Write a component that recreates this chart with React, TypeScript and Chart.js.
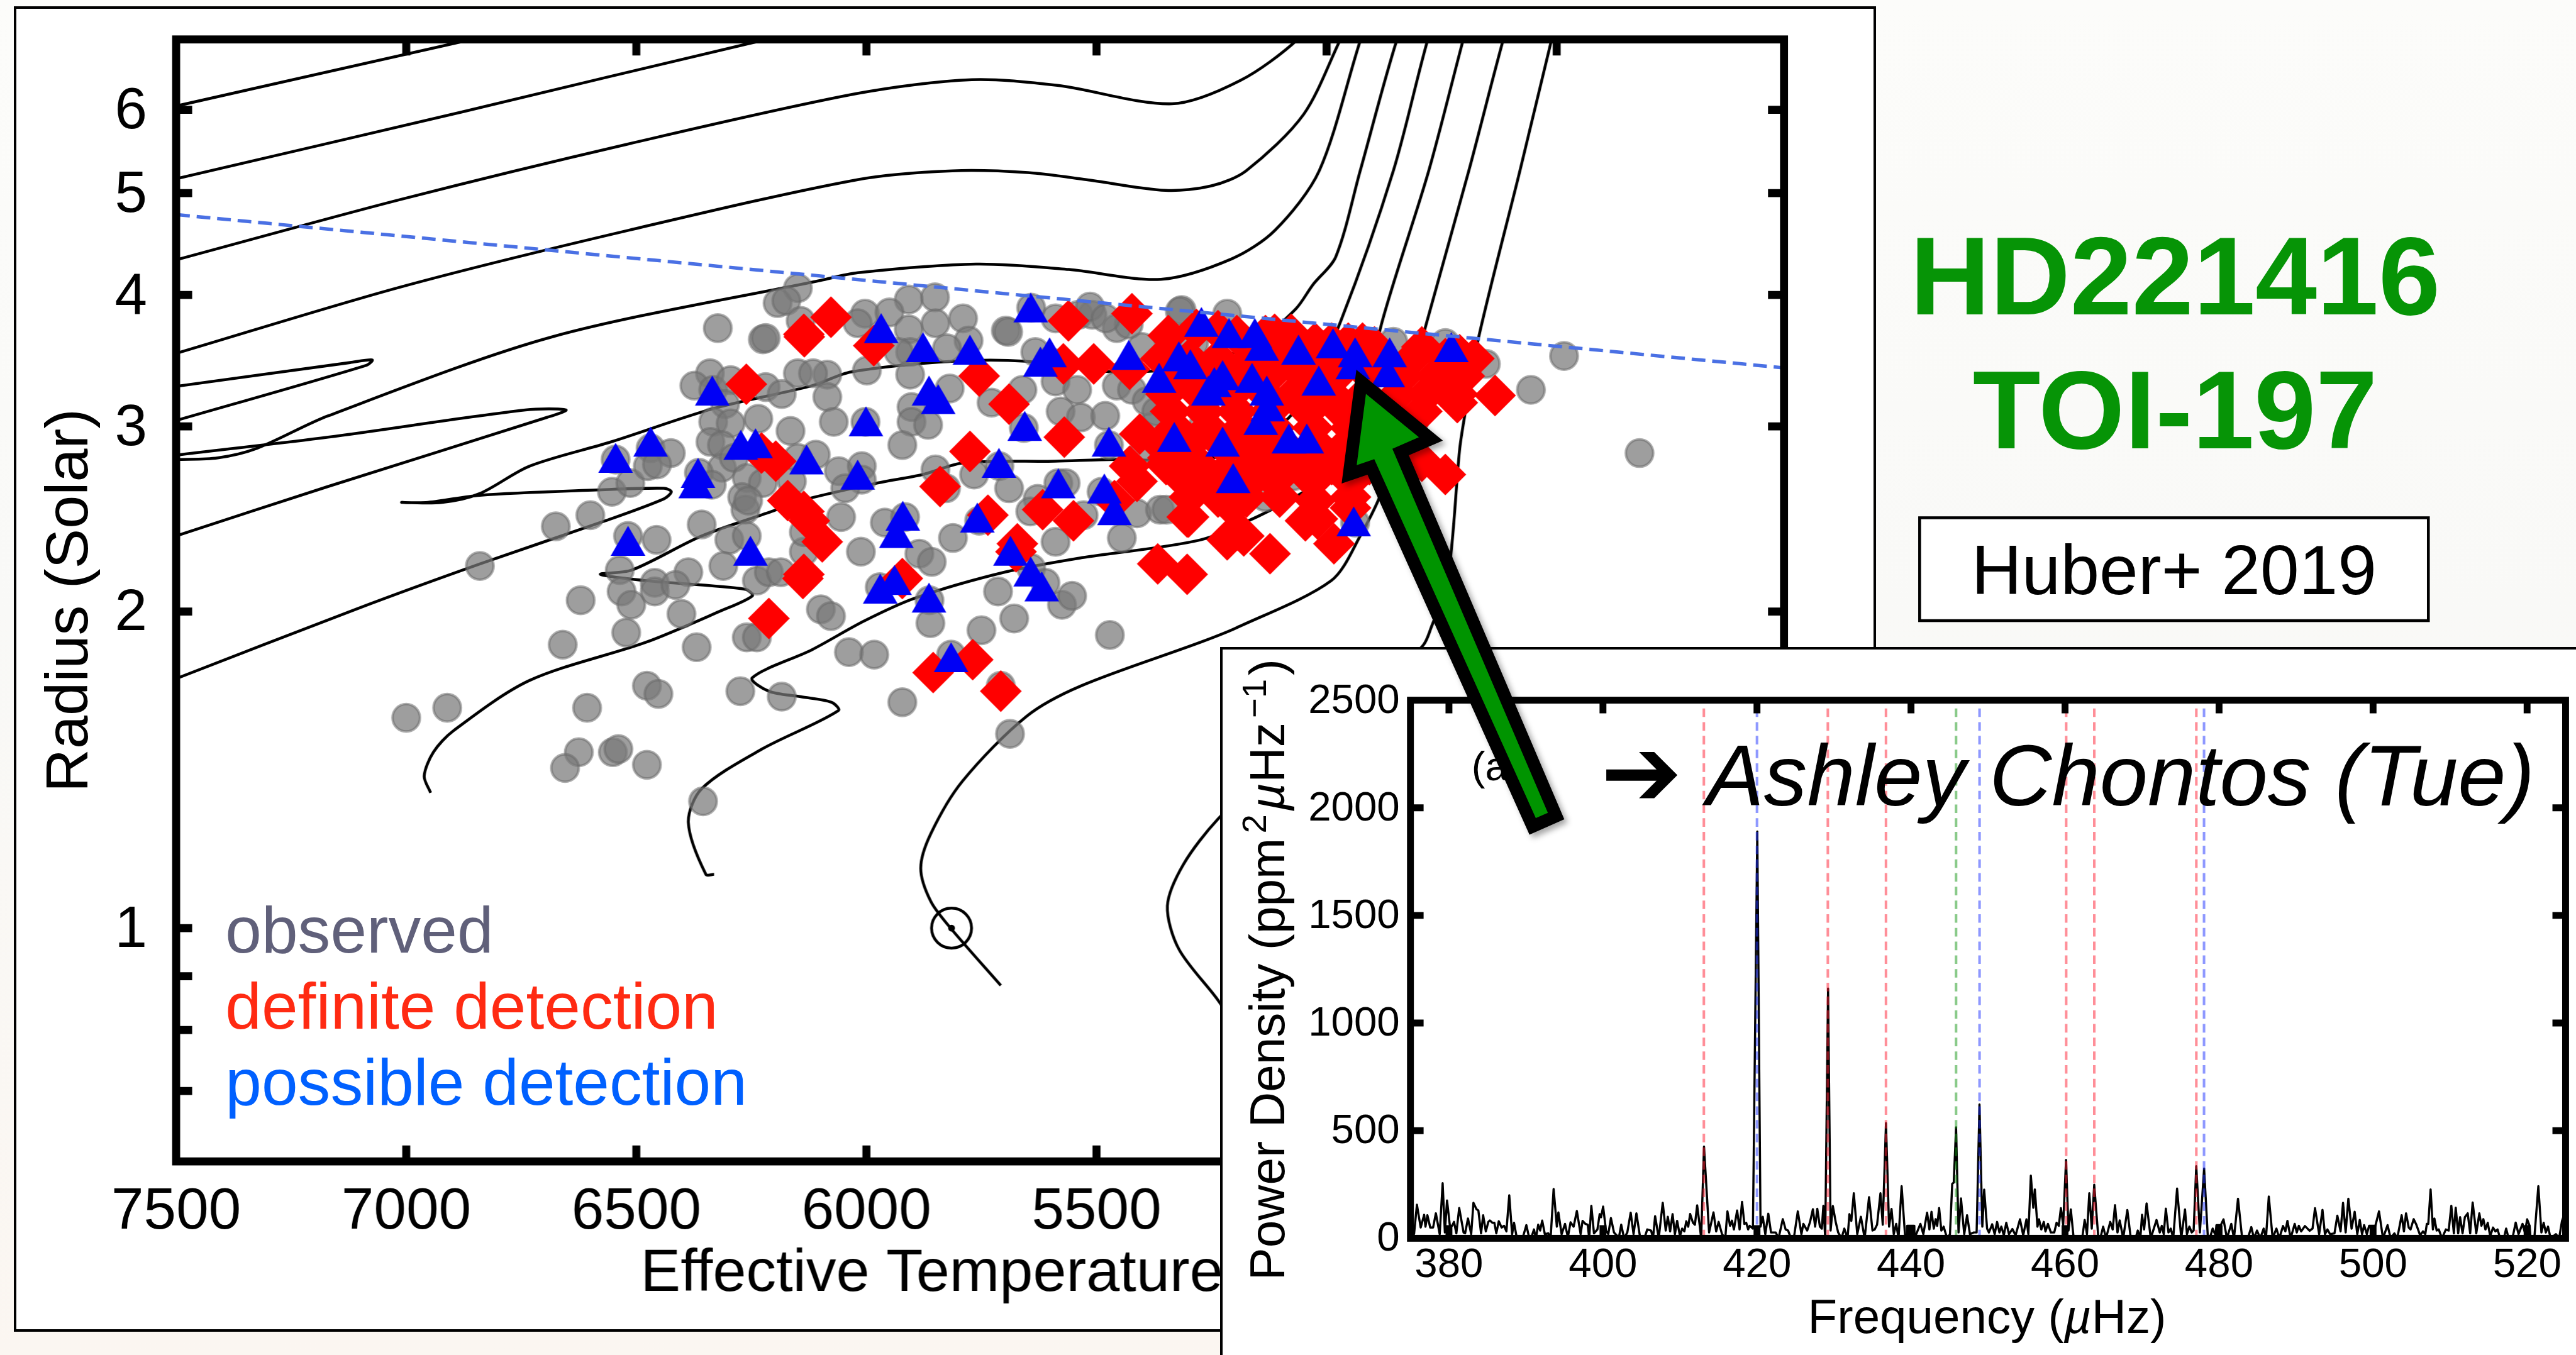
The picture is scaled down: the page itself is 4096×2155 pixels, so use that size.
import React, { useEffect, useRef } from "react";
import { Chart, registerables } from "chart.js";

Chart.register(...registerables);

type P = [number, number];

const FONT = '"Liberation Sans", Arial, sans-serif';
const S = 4096 / 4506;

const teffTicks = [7500, 7000, 6500, 6000, 5500, 5000, 4500, 4000];
const radiusLabelTicks = [6, 5, 4, 3, 2, 1];
const radiusAllTicks = [6, 5, 4, 3, 2, 1, 0.9, 0.8, 0.7];
const freqTicks = [380, 400, 420, 440, 460, 480, 500, 520];
const powerTicks = [0, 500, 1000, 1500, 2000, 2500];

const redModes = [413.1, 429.2, 436.75, 460.15, 463.8, 477.05];
const blueModes = [420.0, 448.9, 478.05];
const greenModes = [445.85];

const tracks: P[][] = [
  [[7500, 6.05], [6896, 6.94], [6765, 7.15]],
  [[7500, 5.16], [6880, 5.97], [6254, 6.94], [6100, 7.15]],
  [[7500, 4.32], [7013, 4.93], [6516, 5.57], [6019, 6.22], [5771, 6.41], [5585, 6.33], [5336, 6.08], [5187, 6.4], [5063, 7.0], [5000, 7.6]],
  [[7500, 3.52], [7013, 4.07], [6516, 4.61], [6019, 5.15], [5813, 5.25], [5649, 5.23], [5522, 5.15], [5350, 5.03], [5250, 5.08], [5175, 5.25], [5050, 5.94], [4970, 7.0], [4930, 7.6]],
  [[7500, 2.79], [7410, 2.8], [7324, 2.86], [7170, 3.07], [6683, 3.65], [6100, 4.13], [6019, 4.2], [5762, 4.28], [5560, 4.23], [5360, 4.14], [5206, 4.33], [5112, 4.61], [5016, 5.25], [4926, 7.0], [4895, 7.6]],
  [[7500, 2.36], [7170, 2.63], [6694, 3.06], [6653, 3.11], [6741, 3.11], [7170, 2.93], [7490, 2.82], [7510, 2.81]],
  [[7510, 3.27], [7122, 3.45], [7074, 3.47], [7086, 3.43], [7510, 3.03]],
  [[7510, 1.72], [7110, 2.01], [6840, 2.22], [6567, 2.44], [6440, 2.56], [6424, 2.6], [6440, 2.62], [6586, 2.61], [6840, 2.58], [6953, 2.54], [7010, 2.54], [6922, 2.54], [6840, 2.59], [6732, 2.75], [6555, 2.9], [6332, 3.12], [6118, 3.28], [6033, 3.38], [5810, 3.46], [5655, 3.46], [5460, 3.38], [5274, 3.43], [5150, 3.62], [5067, 3.88], [5030, 4.09], [4980, 4.35], [4927, 5.25], [4847, 7.0], [4810, 7.6]],
  [[6947, 1.345], [6961, 1.395], [6941, 1.47], [6898, 1.54], [6732, 1.72], [6479, 1.87], [6320, 2.0], [6248, 2.07], [6263, 2.1], [6479, 2.14], [6578, 2.17], [6510, 2.19], [6358, 2.36], [6206, 2.49], [6143, 2.55], [5977, 2.65], [5878, 2.7], [5788, 2.77], [5590, 2.78], [5460, 2.79], [5274, 2.79], [5150, 2.89], [5050, 3.18], [4968, 3.79], [4855, 5.25], [4780, 7.0], [4750, 7.6]],
  [[6331, 1.125], [6349, 1.125], [6387, 1.26], [6358, 1.357], [6227, 1.48], [6061, 1.61], [6076, 1.64], [6143, 1.66], [6212, 1.68], [6248, 1.73], [6118, 1.84], [6004, 1.96], [5894, 2.06], [5700, 2.18], [5533, 2.25], [5274, 2.34], [5144, 2.47], [5042, 2.61], [4948, 2.77], [4881, 3.75], [4778, 5.25], [4703, 7.0], [4680, 7.6]],
  [[5708, 0.882], [5817, 1.0], [5860, 1.06], [5882, 1.14], [5860, 1.23], [5791, 1.38], [5652, 1.59], [5533, 1.7], [5274, 1.87], [5196, 1.93], [4990, 2.14], [4927, 2.36], [4876, 2.63], [4827, 3.18], [4783, 3.76], [4691, 5.25], [4616, 7.0], [4590, 7.6]],
  [[4511, 7.0], [4580, 5.25], [4670, 3.64], [4701, 3.05], [4711, 2.85], [4737, 2.14], [4773, 1.93], [4790, 1.858], [4901, 1.66], [5026, 1.5], [5150, 1.37], [5236, 1.27], [5311, 1.15], [5346, 1.05], [5321, 0.955], [5236, 0.854], [5150, 0.75]],
];

const detectionLimit: P[] = [[7500, 4.77], [4006, 3.41]];
const sun: P[] = [[5815, 1.0]];

const observedStars: P[] = [
  [7000, 1.585], [6911, 1.62], [6840, 2.21], [6675, 2.41], [6600, 2.47], [6553, 2.6], [6513, 2.65], [6545, 2.79], [6469, 2.86], [6425, 2.83],
  [6475, 2.75], [6455, 2.76], [6518, 2.36], [6456, 2.34], [6536, 2.19], [6532, 2.09], [6511, 2.03], [6460, 2.13], [6460, 2.09], [6387, 2.18],
  [6415, 2.12], [6402, 1.99], [6621, 2.05], [6522, 1.91], [6660, 1.86], [6369, 1.85], [6358, 2.42], [6477, 1.7], [6452, 1.67], [6607, 1.62],
  [6625, 1.47], [6655, 1.42], [6551, 1.47], [6539, 1.48], [6477, 1.43], [6355, 1.32], [6274, 1.68], [6184, 1.66], [6260, 1.89], [6238, 1.89],
  [6323, 3.72], [6225, 3.63], [6219, 3.64], [6149, 4.06], [6193, 3.93], [6174, 3.95], [6143, 3.78], [6340, 3.37], [6374, 3.28], [6333, 3.25],
  [6295, 3.32], [6307, 3.15], [6219, 3.27], [6184, 3.22], [6149, 3.37], [6333, 3.03], [6295, 3.02], [6235, 3.05], [6165, 2.97], [6339, 2.9],
  [6314, 2.88], [6314, 2.74], [6288, 2.8], [6364, 2.71], [6336, 2.64], [6260, 2.68], [6225, 2.65], [6270, 2.57], [6263, 2.5], [6257, 2.55],
  [6298, 2.34], [6260, 2.36], [6311, 2.21], [6238, 2.14], [6212, 2.18], [6186, 2.18], [6136, 2.28], [6136, 2.38], [6162, 2.66], [6149, 2.8],
  [5908, 3.96], [5851, 3.98], [6003, 3.84], [5950, 3.85], [6019, 3.76], [5908, 3.71], [5850, 3.76], [5790, 3.8], [5697, 3.7], [5692, 3.69],
  [5778, 3.62], [5825, 3.56], [5905, 3.53], [5930, 3.53], [5999, 3.39], [5905, 3.36], [6085, 3.36], [6116, 3.37], [6085, 3.2], [6071, 3.03],
  [6002, 3.03], [5819, 3.26], [5902, 3.13], [5902, 3.03], [5866, 3.01], [5922, 2.88], [6110, 2.82], [6060, 2.72], [6010, 2.75], [6010, 2.67],
  [6046, 2.62], [5850, 2.73], [5766, 2.7], [5711, 2.75], [5827, 2.62], [5690, 2.62], [6055, 2.46], [5960, 2.43], [5916, 2.46], [6012, 2.28],
  [5812, 2.35], [5755, 2.44], [5885, 2.27], [5858, 2.23], [6099, 2.01], [6077, 1.98], [5863, 2.05], [5861, 1.95], [6038, 1.83], [5983, 1.82],
  [5750, 1.92], [5679, 1.97], [5714, 2.09], [5816, 1.82], [5922, 1.64], [5688, 1.53], [5708, 1.7], [5971, 2.11], [5642, 2.2], [5611, 2.13],
  [5575, 2.03], [5553, 2.07], [5471, 1.9], [5658, 2.99], [5661, 3.25], [5728, 3.16], [5633, 3.53], [5603, 3.46], [5589, 3.31], [5542, 3.25],
  [5578, 3.1], [5534, 3.06], [5481, 3.07], [5456, 3.28], [5423, 3.25], [5589, 3.8], [5539, 3.83], [5509, 3.83], [5456, 3.72], [5642, 3.89],
  [5473, 2.88], [5583, 2.65], [5567, 2.65], [5628, 2.56], [5644, 2.49], [5589, 2.33], [5445, 2.35], [5412, 2.48], [5362, 2.5], [5348, 2.5],
  [5489, 2.6], [5528, 2.47], [5378, 3.0], [5395, 2.86], [5315, 3.87], [4484, 3.5], [4556, 3.25], [4654, 3.44], [4742, 3.6], [4809, 3.04],
  [4855, 3.61], [4320, 2.83], [5319, 3.86], [5216, 3.84], [5514, 3.9], [5071, 2.69], [5133, 2.57], [4938, 2.43], [5267, 3.02], [5288, 3.6],
  [5401, 3.57], [5391, 3.17], [5370, 3.1], [5430, 3.75], [5480, 3.8],
];

const definiteStars: P[] = [
  [6261, 3.29], [6136, 3.67], [6212, 1.97], [6136, 2.17], [6228, 2.83], [6197, 2.78], [6171, 2.55], [6136, 2.49], [6077, 3.81], [6135, 3.65],
  [5984, 3.58], [5755, 3.35], [5690, 3.15], [5561, 3.78], [5570, 2.93], [5506, 3.44], [5572, 3.44], [5775, 2.84], [5840, 2.63], [5736, 2.47],
  [5672, 2.32], [5675, 2.28], [6096, 2.33], [6124, 2.44], [6138, 2.15], [5922, 2.15], [5855, 1.75], [5769, 1.8], [5708, 1.68], [5617, 2.5],
  [5550, 2.44], [5461, 2.55], [5428, 2.75], [5412, 2.66], [5406, 2.95], [5367, 2.22], [5303, 2.17], [5423, 3.84], [5303, 2.46], [5345, 2.8],
  [5428, 3.4], [5283, 3.71], [5236, 3.7], [5195, 3.66], [5133, 3.66], [5113, 3.67], [5077, 3.67], [5025, 3.6], [4989, 3.6], [4953, 3.6],
  [4922, 3.6], [4896, 3.57], [4793, 3.57], [4711, 3.51], [5344, 3.66],
  [5360, 3.48], [5298, 3.48], [5236, 3.48], [5164, 3.48], [5092, 3.48], [5030, 3.48], [4968, 3.48], [4886, 3.48], [4814, 3.48], [4742, 3.48], [4680, 3.48],
  [5319, 3.35], [5257, 3.35], [5195, 3.35], [5123, 3.35], [5051, 3.35], [4979, 3.35], [4907, 3.35], [4834, 3.35], [4762, 3.35], [4701, 3.35],
  [5349, 3.22], [5277, 3.22], [5205, 3.22], [5133, 3.22], [5071, 3.22], [4989, 3.22], [4917, 3.22], [4845, 3.22], [4783, 3.22], [4716, 3.22], [4634, 3.21],
  [5339, 3.1], [5267, 3.1], [5195, 3.1], [5123, 3.1], [5040, 3.1], [4968, 3.1], [4886, 3.1], [4793, 3.1], [4716, 3.16],
  [5329, 2.99], [5257, 2.99], [5185, 2.99], [5113, 2.99], [5030, 2.99], [4948, 2.99],
  [5360, 2.88], [5298, 2.88], [5226, 2.88], [5164, 2.88], [5092, 2.88], [5020, 2.88], [4958, 2.88],
  [5349, 2.76], [5277, 2.76], [5205, 2.76], [5133, 2.76], [5061, 2.76], [4989, 2.76], [4907, 2.76], [4793, 2.78],
  [5308, 2.66], [5246, 2.66], [5164, 2.66], [5113, 2.66], [5030, 2.66], [4948, 2.66], [4742, 2.7],
  [5298, 2.57], [5236, 2.57], [5174, 2.57], [5102, 2.57], [4948, 2.57],
  [5300, 2.46], [5205, 2.51], [5180, 2.36], [5123, 2.27], [5020, 2.45], [5046, 2.44], [4984, 2.32], [4948, 2.51], [5025, 2.55], [5216, 2.34],
];

const possibleStars: P[] = [
  [5643, 3.85], [5968, 3.68], [5877, 3.53], [5775, 3.51], [5602, 3.49], [5622, 3.42], [5430, 3.47], [5272, 3.73], [5212, 3.64], [5156, 3.64],
  [5141, 3.54], [5061, 3.51], [4986, 3.56], [4938, 3.49], [4943, 3.4], [4863, 3.49], [4867, 3.34], [4729, 3.53], [5321, 3.46], [5296, 3.4],
  [5364, 3.3], [5226, 3.32], [5244, 3.27], [5257, 3.21], [5162, 3.3], [5130, 3.21], [5128, 3.1], [5143, 3.01], [5017, 3.28], [5082, 2.89],
  [5043, 2.89], [5226, 2.87], [5331, 2.9], [5473, 2.87], [5656, 2.97], [5864, 3.21], [5844, 3.15], [6001, 3.0], [5712, 2.74], [6019, 2.67],
  [5583, 2.62], [5483, 2.59], [5461, 2.47], [5203, 2.65], [5759, 2.43], [4941, 2.41], [5921, 2.44], [5935, 2.35], [5687, 2.26], [5643, 2.16],
  [5619, 2.09], [5939, 2.12], [5970, 2.08], [5864, 2.04], [5816, 1.79], [6335, 3.21], [6545, 2.77], [6469, 2.87], [6366, 2.68], [6371, 2.62],
  [6518, 2.31], [6252, 2.26], [6273, 2.85], [6241, 2.86], [6130, 2.76],
];

const spectrumA: P[] = [
  [375, 40], [375.47, 20], [375.84, 156], [376.33, 50], [376.78, 109], [376.95, 54], [377.2, 107], [377.57, 50], [377.94, 50], [378.3, 116], [378.8, 19], [379.18, 256], [379.47, 27], [379.75, 176], [380.12, 58], [380.41, 58], [380.66, 76], [380.96, 23], [381.33, 141], [381.9, 27], [382.1, 23], [382.47, 92], [382.89, 19], [383.18, 165], [383.58, 135], [383.82, 129], [384.17, 23], [384.44, 107], [384.79, 32], [385.11, 76], [385.31, 83], [385.65, 72], [385.9, 72], [386.15, 23], [386.47, 79], [386.84, 50], [387.16, 58], [387.46, 32], [387.83, 200], [388.2, 19], [388.45, 72], [388.82, 0], [389.56, 0], [390.05, 61], [390.43, 0], [390.67, 0], [391.04, 41], [391.29, 0], [391.59, 63], [391.84, 36], [392.11, 82], [392.45, 19], [392.9, 23], [393.2, 0], [393.59, 229], [394.01, 54], [394.21, 120], [394.63, 19], [395.07, 67], [395.44, 5], [395.79, 74], [396.19, 54], [396.61, 127], [397.1, 19], [397.35, 81], [397.72, 67], [398.02, 63], [398.21, 0], [398.49, 151], [398.83, 23], [399.28, 41], [399.57, 112], [399.75, 98], [400.02, 147], [400.39, 36], [400.69, 19], [401.03, 94], [401.43, 27], [401.87, 10], [402.05, 0], [402.37, 63], [402.74, 0], [403.16, 27], [403.6, 119], [403.97, 19], [404.34, 116], [404.84, 0], [405.38, 0], [405.75, 41], [406.25, 36], [406.5, 0], [406.77, 103], [407.24, 0], [407.76, 165], [408.15, 36], [408.42, 100], [408.72, 32], [409.04, 112], [409.34, 19], [409.63, 81], [410.0, 10], [410.28, 45], [410.57, 32], [410.82, 79], [411.07, 54], [411.32, 113], [411.69, 72], [411.94, 63], [412.23, 153],
];
const spectrumB: P[] = [
  [412.55, 63], [412.75, 0], [413.12, 426], [413.78, 27], [414.35, 120], [414.7, 32], [415.02, 76], [415.46, 19], [415.88, 0], [416.16, 125], [416.5, 58], [416.75, 82], [417.0, 41], [417.42, 129], [417.74, 41], [418.06, 169], [418.36, 67], [418.6, 72], [418.85, 41], [419.05, 58], [419.47, 45], [420.04, 1890], [420.46, 54], [420.75, 100], [421.08, 19], [421.47, 114], [421.82, 27], [422.44, 27], [422.8, 0], [423.35, 89], [423.72, 41], [424.04, 36], [424.41, 0], [424.78, 0], [425.3, 125], [425.77, 19], [426.02, 67], [426.52, 36], [426.89, 76], [427.26, 135], [427.55, 54], [427.83, 137], [428.17, 54], [428.42, 45], [428.62, 151], [428.86, 0], [429.23, 1160], [429.56, 36], [429.85, 150], [430.22, 76], [430.54, 27], [430.97, 0], [431.34, 45], [431.76, 0], [432.0, 112], [432.25, 81], [432.57, 209], [433.02, 19], [433.49, 100], [433.98, 0], [434.55, 191], [435.0, 36], [435.29, 41], [435.59, 63], [436.03, 209], [436.33, 63], [436.75, 535], [437.15, 54], [437.47, 136], [437.76, 19], [438.08, 67], [438.38, 0], [438.78, 242], [439.25, 0], [439.47, 0], [439.5, 58], [440.43, 58], [440.46, 0], [441.22, 67], [441.6, 19], [442.09, 119], [442.39, 41], [442.66, 123], [442.96, 45], [443.2, 89], [443.4, 58], [443.65, 141], [443.94, 36], [444.24, 54], [444.69, 0], [445.06, 19], [445.35, 253], [445.55, 259], [445.85, 515], [446.17, 27], [446.49, 185], [446.91, 19], [447.28, 107], [447.65, 19], [448.15, 27], [448.52, 27], [448.89, 622], [449.26, 54], [449.5, 226], [449.88, 45],
];
const spectrumC: P[] = [
  [450.12, 27], [450.54, 65], [450.86, 19], [451.18, 76], [451.48, 27], [451.73, 54], [452.05, 14], [452.37, 72], [452.72, 19], [453.16, 43], [453.58, 14], [454.15, 88], [454.57, 14], [454.99, 88], [455.24, 19], [455.56, 291], [455.88, 142], [456.08, 227], [456.42, 54], [456.62, 88], [456.92, 41], [457.24, 76], [457.46, 32], [457.78, 67], [458.16, 27], [458.6, 27], [458.9, 72], [459.19, 58], [459.46, 140], [459.76, 63], [460.13, 364], [460.45, 36], [460.75, 134], [461.12, 0], [462.23, 0], [462.55, 85], [462.85, 19], [463.15, 209], [463.47, 45], [463.79, 249], [464.33, 0], [464.58, 0], [464.95, 54], [465.32, 0], [465.87, 76], [466.19, 41], [466.49, 154], [466.81, 27], [467.1, 83], [467.55, 0], [468.09, 131], [468.54, 0], [469.16, 0], [469.45, 36], [469.78, 0], [470.0, 109], [470.27, 41], [470.59, 162], [471.13, 0], [471.88, 85], [472.3, 27], [472.57, 58], [472.82, 19], [473.09, 138], [473.43, 27], [473.73, 45], [474.05, 0], [474.55, 231], [475.09, 0], [475.58, 134], [475.83, 19], [476.15, 54], [476.45, 27], [476.7, 36], [477.04, 335], [477.51, 27], [478.06, 324], [478.55, 0], [478.8, 0], [479.17, 45], [479.54, 14], [479.66, 61], [480.23, 61], [480.58, 88], [481.02, 0], [481.59, 67], [481.94, 0], [482.46, 184], [483.0, 0], [483.74, 0], [484.19, 52], [484.53, 0], [484.93, 36], [485.35, 0], [485.79, 45], [486.09, 0], [486.46, 194], [486.96, 0], [487.45, 45], [487.82, 0],
];
const spectrumD: P[] = [
  [488.31, 57], [488.61, 32], [488.88, 81], [489.3, 0], [489.82, 67], [490.09, 27], [490.36, 58], [490.66, 32], [491.15, 57], [491.77, 35], [492.14, 45], [492.46, 140], [493.0, 19], [493.43, 132], [493.75, 19], [494.07, 41], [494.42, 19], [494.99, 23], [495.36, 105], [495.78, 32], [496.1, 165], [496.44, 27], [496.79, 184], [497.21, 45], [497.61, 123], [497.95, 19], [498.27, 85], [498.57, 19], [498.84, 61], [499.19, 19], [499.49, 58], [500.3, 58], [500.77, 125], [501.29, 0], [501.88, 61], [502.28, 0], [502.77, 23], [503.14, 0], [503.71, 107], [504.01, 32], [504.28, 116], [504.63, 50], [504.87, 41], [505.27, 89], [505.62, 63], [506.11, 14], [506.48, 32], [506.78, 19], [506.98, 67], [507.17, 67], [507.47, 227], [507.77, 41], [507.96, 92], [508.26, 36], [508.53, 41], [508.95, 0], [509.45, 41], [509.82, 36], [510.16, 151], [510.49, 23], [510.73, 142], [511.05, 23], [511.3, 98], [511.62, 23], [511.92, 98], [512.29, 116], [512.61, 23], [512.93, 166], [513.4, 23], [513.8, 116], [514.07, 58], [514.32, 89], [514.59, 41], [514.89, 72], [515.21, 10], [515.58, 50], [515.88, 32], [516.17, 41], [516.49, 0], [516.99, 0], [517.28, 45], [517.6, 0], [518.1, 0], [518.52, 73], [518.89, 19], [519.41, 67], [519.71, 27], [520.01, 88], [520.33, 58], [520.45, 0], [520.94, 0], [521.46, 242], [521.86, 27], [522.15, 72], [522.43, 27], [522.72, 54], [523.05, 0], [523.74, 19], [524.16, 0], [524.53, 80], [525, 130],
];

const toXY = (pts: P[]) => pts.map(([x, y]) => ({ x, y }));

function framePlugin(cfg: { lw: number; len: number; xs: number[]; ys: number[] }) {
  return {
    id: "frame",
    afterDatasetsDraw(chart: any) {
      const { ctx, chartArea: a, scales } = chart;
      const lw = cfg.lw * S;
      const len = (cfg.len + cfg.lw / 2) * S;
      ctx.save();
      ctx.strokeStyle = "#000";
      ctx.lineWidth = lw;
      ctx.lineCap = "butt";
      ctx.lineJoin = "miter";
      ctx.strokeRect(a.left, a.top, a.right - a.left, a.bottom - a.top);
      ctx.beginPath();
      for (const v of cfg.xs) {
        const p = scales.x.getPixelForValue(v);
        if (p <= a.left + 1 || p >= a.right - 1) continue;
        ctx.moveTo(p, a.top);
        ctx.lineTo(p, a.top + len);
        ctx.moveTo(p, a.bottom);
        ctx.lineTo(p, a.bottom - len);
      }
      for (const v of cfg.ys) {
        const p = scales.y.getPixelForValue(v);
        if (p <= a.top + 1 || p >= a.bottom - 1) continue;
        ctx.moveTo(a.left, p);
        ctx.lineTo(a.left + len, p);
        ctx.moveTo(a.right, p);
        ctx.lineTo(a.right - len, p);
      }
      ctx.stroke();
      ctx.restore();
    },
  };
}

const setTicks = (vals: number[]) => (scale: any) => {
  scale.ticks = vals.map((value) => ({ value }));
};
const fix = (prop: "width" | "height", v: number) => (scale: any) => {
  scale[prop] = v;
  scale.paddingTop = 0;
  scale.paddingBottom = 0;
  scale.paddingLeft = 0;
  scale.paddingRight = 0;
};

const MAIN = { x: 24, y: 11, w: 3258, h: 2319, left: 308, top: 69, right: 3121, bottom: 2032 };
const INSET = { x: 2134, y: 1132, w: 2392, h: 1259, left: 2467, top: 1225, right: 4488, bottom: 2167 };

export default function App() {
  const mainRef = useRef<HTMLCanvasElement>(null);
  const insetRef = useRef<HTMLCanvasElement>(null);

  useEffect(() => {
    const main = new Chart(mainRef.current as any, {
      type: "scatter",
      data: {
        datasets: [
          ...tracks.map((t) => ({
            data: toXY(t),
            showLine: true,
            borderColor: "#000",
            borderWidth: 5 * S,
            tension: 0.3,
            pointRadius: 0,
            order: 6,
          })),
          {
            data: toXY(observedStars),
            pointStyle: "circle",
            pointRadius: 24 * S,
            backgroundColor: "rgba(120,120,120,0.72)",
            borderColor: "rgba(105,105,105,0.55)",
            pointBorderWidth: 4.5 * S,
            order: 5,
          },
          {
            data: toXY(definiteStars),
            pointStyle: "rectRot",
            pointRadius: 36.5 * S,
            backgroundColor: "#ff0000",
            borderColor: "#ff0000",
            pointBorderWidth: 0,
            order: 4,
          },
          {
            data: toXY(possibleStars),
            pointStyle: "triangle",
            pointRadius: 35 * S,
            backgroundColor: "#0000f5",
            borderColor: "#0000f5",
            pointBorderWidth: 0,
            order: 3,
          },
          {
            data: toXY(detectionLimit),
            showLine: true,
            borderColor: "#4a70e4",
            borderWidth: 6 * S,
            borderDash: [24 * S, 12 * S],
            pointRadius: 0,
            order: 2,
          },
          {
            data: toXY(sun),
            pointStyle: "circle",
            pointRadius: 35 * S,
            backgroundColor: "rgba(0,0,0,0)",
            borderColor: "#000",
            pointBorderWidth: 5 * S,
            order: 1,
          },
          {
            data: toXY(sun),
            pointStyle: "circle",
            pointRadius: 6 * S,
            backgroundColor: "#000",
            borderColor: "#000",
            pointBorderWidth: 0,
            order: 1,
          },
        ],
      },
      options: {
        responsive: false,
        animation: false,
        events: [],
        layout: { autoPadding: false, padding: { left: 0, top: (MAIN.top - MAIN.y) * S, right: (MAIN.x + MAIN.w - MAIN.right) * S, bottom: 0 } },
        plugins: { legend: { display: false }, tooltip: { enabled: false } },
        scales: {
          x: {
            type: "linear",
            reverse: true,
            min: 4006,
            max: 7500,
            grid: { display: false },
            border: { display: false },
            afterBuildTicks: setTicks(teffTicks),
            afterFit: fix("height", (MAIN.y + MAIN.h - MAIN.bottom) * S),
            ticks: {
              autoSkip: false,
              maxRotation: 0,
              minRotation: 0,
              padding: 18,
              color: "#000",
              font: { family: FONT, size: 102 * S },
              callback: (v: any) => String(v),
            },
            title: {
              display: true,
              text: "Effective Temperature (K)",
              color: "#000",
              font: { family: FONT, size: 105 * S },
              padding: { top: 0, bottom: 34 },
            },
          },
          y: {
            type: "logarithmic",
            min: 0.6,
            max: 7,
            grid: { display: false },
            border: { display: false },
            afterBuildTicks: setTicks(radiusLabelTicks),
            afterFit: fix("width", (MAIN.left - MAIN.x) * S),
            ticks: {
              autoSkip: false,
              padding: 38,
              labelOffset: 4,
              color: "#000",
              font: { family: FONT, size: 102 * S },
              callback: (v: any) => String(v),
            },
            title: {
              display: true,
              text: "Radius (Solar)",
              color: "#000",
              font: { family: FONT, size: 105 * S },
              padding: { top: 33, bottom: 0 },
            },
          },
        },
      } as any,
      plugins: [framePlugin({ lw: 14, len: 21, xs: teffTicks, ys: radiusAllTicks })] as any,
    });

    const modeLine = (f: number, color: string) => ({
      data: [{ x: f, y: 0 }, { x: f, y: 2500 }],
      showLine: true,
      borderColor: color,
      borderWidth: 4.5 * S,
      borderDash: [15 * S, 9 * S],
      pointRadius: 0,
      order: 1,
    });

    const inset = new Chart(insetRef.current as any, {
      type: "scatter",
      data: {
        datasets: [
          {
            data: toXY([...spectrumA, ...spectrumB, ...spectrumC, ...spectrumD]),
            showLine: true,
            borderColor: "#000",
            borderWidth: 3.8 * S,
            borderJoinStyle: "round",
            pointRadius: 0,
            order: 2,
          },
          ...redModes.map((f) => modeLine(f, "rgba(255,30,50,0.5)")),
          ...blueModes.map((f) => modeLine(f, "rgba(30,50,255,0.5)")),
          ...greenModes.map((f) => modeLine(f, "rgba(20,150,20,0.5)")),
        ],
      },
      options: {
        responsive: false,
        animation: false,
        events: [],
        layout: { autoPadding: false, padding: { left: 0, top: (INSET.top - INSET.y) * S, right: (INSET.x + INSET.w - INSET.right) * S, bottom: 0 } },
        plugins: { legend: { display: false }, tooltip: { enabled: false } },
        scales: {
          x: {
            type: "linear",
            min: 375,
            max: 525,
            grid: { display: false },
            border: { display: false },
            afterBuildTicks: setTicks(freqTicks),
            afterFit: fix("height", (INSET.y + INSET.h - INSET.bottom) * S),
            ticks: {
              autoSkip: false,
              maxRotation: 0,
              minRotation: 0,
              padding: -4,
              color: "#000",
              font: { family: FONT, size: 72 * S },
              callback: (v: any) => String(v),
            },
          },
          y: {
            type: "linear",
            min: 0,
            max: 2500,
            grid: { display: false },
            border: { display: false },
            afterBuildTicks: setTicks(powerTicks),
            afterFit: fix("width", (INSET.left - INSET.x) * S),
            ticks: {
              autoSkip: false,
              padding: 9,
              labelOffset: 2,
              color: "#000",
              font: { family: FONT, size: 72 * S },
              callback: (v: any) => String(v),
            },
          },
        },
      } as any,
      plugins: [framePlugin({ lw: 12, len: 17, xs: freqTicks, ys: powerTicks.slice(1, -1) })] as any,
    });

    return () => {
      main.destroy();
      inset.destroy();
    };
  }, []);

  const canvasStyle = (b: typeof MAIN, lw: number): React.CSSProperties => ({
    position: "absolute",
    left: b.x * S,
    top: b.y * S,
    width: b.w * S,
    height: b.h * S,
    display: "block",
    background: "#fff",
    outline: `${lw * S}px solid #000`,
    outlineOffset: `${-lw * S}px`,
  });

  return (
    <div
      style={{
        position: "fixed",
        left: 0,
        top: 0,
        width: 4096,
        height: 2155,
        overflow: "hidden",
        background: "linear-gradient(180deg,#fcfcfa 0%,#f9f9f7 45%,#fbf6f1 100%)",
      }}
    >
      <canvas ref={mainRef} width={Math.round(MAIN.w * S)} height={Math.round(MAIN.h * S)} style={canvasStyle(MAIN, 5)} />
      <canvas ref={insetRef} width={Math.round(INSET.w * S)} height={Math.round(INSET.h * S)} style={canvasStyle(INSET, 5)} />
      <svg
        viewBox="0 0 4506 2371"
        width={4096}
        height={2155}
        style={{ position: "absolute", left: 0, top: 0, fontFamily: FONT }}
      >
        <defs>
          <filter id="arrowShadow" x="-10%" y="-10%" width="120%" height="120%">
            <feDropShadow dx="6" dy="6" stdDeviation="5" floodColor="#000" floodOpacity="0.35" />
          </filter>
        </defs>
        <text x={394} y={1667} fontSize={114} fill="#60607a">observed</text>
        <text x={394} y={1800} fontSize={114} fill="#ff2a12">definite detection</text>
        <text x={394} y={1933} fontSize={114} fill="#0060ff">possible detection</text>

        <text x={3805} y={550} fontSize={194} fontWeight="bold" fill="#069406" textAnchor="middle">HD221416</text>
        <text x={3805} y={785} fontSize={194} fontWeight="bold" fill="#069406" textAnchor="middle">TOI-197</text>

        <rect x={3358} y={906} width={890} height={180} fill="#fff" stroke="#000" strokeWidth={5} />
        <text x={3803} y={1040} fontSize={122} fill="#000" textAnchor="middle">Huber+ 2019</text>

        <text x={2574} y={1365} fontSize={72} fill="#000">(a)</text>
        <text x={2800} y={1409} fontSize={170} fill="#000" style={{ fontFamily: '"DejaVu Sans"' }}>➔</text>
        <text x={2985} y={1409} fontSize={151} fontStyle="italic" fill="#000">Ashley Chontos (Tue)</text>

        <text x={3476} y={2332} fontSize={84} fill="#000" textAnchor="middle">
          Frequency (<tspan fontStyle="italic">µ</tspan>Hz)
        </text>
        <text transform="translate(2246,1697) rotate(-90)" fontSize={86} fill="#000" textAnchor="middle">
          Power Density (ppm
          <tspan dy={-32} dx={8} fontSize={60}>2</tspan>
          <tspan dy={32} dx={6} fontStyle="italic">µ</tspan>Hz
          <tspan dy={-32} dx={8} fontSize={60}>−1</tspan>
          <tspan dy={32} dx={6}>)</tspan>
        </text>

        <polygon
          points="2381,668 2503,768 2450,791 2722,1428 2681,1446 2398,817 2360,830"
          fill="#069406"
          stroke="#000"
          strokeWidth={22}
          strokeLinejoin="miter"
          strokeMiterlimit={10}
          filter="url(#arrowShadow)"
        />
      </svg>
    </div>
  );
}
